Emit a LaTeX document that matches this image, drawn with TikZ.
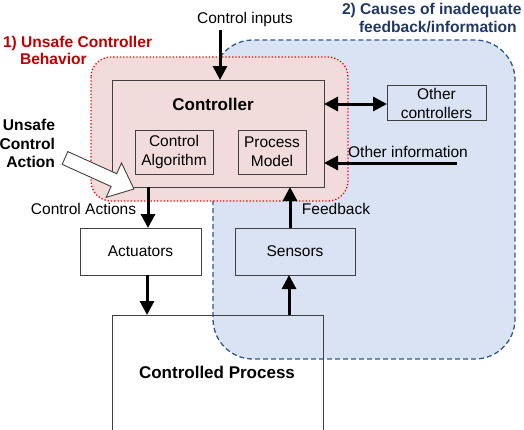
\documentclass[tikz,border=0pt]{standalone}
\usepackage{fontspec}
\setmainfont{Liberation Sans}
\usetikzlibrary{arrows.meta}
\definecolor{pinkfill}{HTML}{F2DCDB}
\definecolor{bluefill}{HTML}{DAE3F3}
\definecolor{blueborder}{HTML}{2F5A8A}
\definecolor{bluetitle}{HTML}{203864}
\definecolor{redtitle}{HTML}{C00000}
\definecolor{boxgray}{HTML}{404040}
\begin{document}
\begin{tikzpicture}[x=1pt,y=-1pt,
  every node/.style={font=\fontsize{15.5}{19}\selectfont, inner sep=0pt, outer sep=0pt},
  box/.style={draw=boxgray, line width=1pt, align=center},
  bigtxt/.style={font=\fontsize{17}{20}\selectfont\bfseries},
  ttl/.style={font=\fontsize{15.6}{18}\selectfont\bfseries},
  arr/.style={line width=3pt, -{Triangle[width=14pt,length=14pt]}},
  darr/.style={line width=3pt, {Triangle[width=14pt,length=14pt]}-{Triangle[width=14pt,length=14pt]}}
]
\clip (0,0) rectangle (524,429);
% blue region
\draw[fill=bluefill, draw=blueborder, line width=1.3pt, dash pattern=on 5pt off 3pt, rounded corners=40pt]
  (213,40) rectangle (515,359);
% controlled process box
\draw[draw=boxgray, line width=1pt] (112,315) rectangle (323,440);
\node[bigtxt, anchor=base] (cptxt) at (217,378) {Controlled Process};
\coordinate (cptop) at (217,315);
% pink region
\draw[fill=pinkfill, draw=red, line width=1.3pt, dotted, rounded corners=20pt]
  (91,57) rectangle (348,201);
% controller
\node[box, fill=pinkfill, minimum width=212pt, minimum height=107pt] (ctrl) at (218,133.5) {};
\node[bigtxt, anchor=base] (ctrltxt) at (213,110) {Controller};
\node[box, minimum width=78pt, minimum height=44pt] (alg) at (174,152) {Control\\Algorithm};
\node[box, minimum width=68pt, minimum height=44pt] (pm) at (272,152) {Process\\Model};
% other boxes
\node[box, minimum width=99pt, minimum height=35pt] (oc) at (436.5,103) {Other\\controllers};
\node[box, fill=white, minimum width=121pt, minimum height=47pt] (act) at (140.5,251.5) {Actuators};
\node[box, minimum width=120pt, minimum height=47pt] (sen) at (295,251.5) {Sensors};
% labels
\node[anchor=base] (cilbl) at (245,23) {Control inputs};
\node[anchor=base] (oilbl) at (408,157) {Other information};
\node[anchor=base] (fblbl) at (336,214) {Feedback};
\node[anchor=base] (calbl) at (83.5,214) {Control Actions};
\node[ttl, anchor=base west, text=redtitle] (t1a) at (3,47) {1) Unsafe Controller};
\node[ttl, anchor=base west, text=redtitle] (t1b) at (20,64) {Behavior};
\node[ttl, anchor=base west, text=bluetitle] (t2a) at (342,14) {2) Causes of inadequate};
\node[ttl, anchor=base west, text=bluetitle] (t2b) at (359,32) {feedback/information};
\node[ttl, anchor=base east] (u1) at (55,130) {Unsafe};
\node[ttl, anchor=base east] (u2) at (55,149) {Control};
\node[ttl, anchor=base east] (u3) at (55,167) {Action};
% arrows
\coordinate (cin) at (220,30);
\draw[arr] (cin) -- (cin |- ctrl.north);
\coordinate (ocy) at (0,104);
\draw[darr] (ctrl.east |- ocy) -- (oc.west |- ocy);
\coordinate (oin) at (457,163);
\draw[arr] (oin) -- (ctrl.east |- oin);
\coordinate (cax) at (148,0);
\draw[arr] (cax |- ctrl.south) -- (cax |- act.north);
\coordinate (apx) at (147,0);
\draw[arr] (apx |- act.south) -- (apx |- cptop);
\coordinate (spx) at (289,0);
\draw[arr] (spx |- cptop) -- (spx |- sen.south);
\coordinate (fbx) at (290,0);
\draw[arr] (fbx |- sen.north) -- (fbx |- ctrl.south);
% hollow arrow
\draw[fill=white, draw=boxgray, line width=0.9pt, line join=miter]
  (62.2,164.4) -- (67.8,151.6) -- (116.7,173.7) -- (121.5,163.0) -- (134,189)
  -- (106.2,197.3) -- (111.1,186.5) -- cycle;
\end{tikzpicture}
\end{document}
